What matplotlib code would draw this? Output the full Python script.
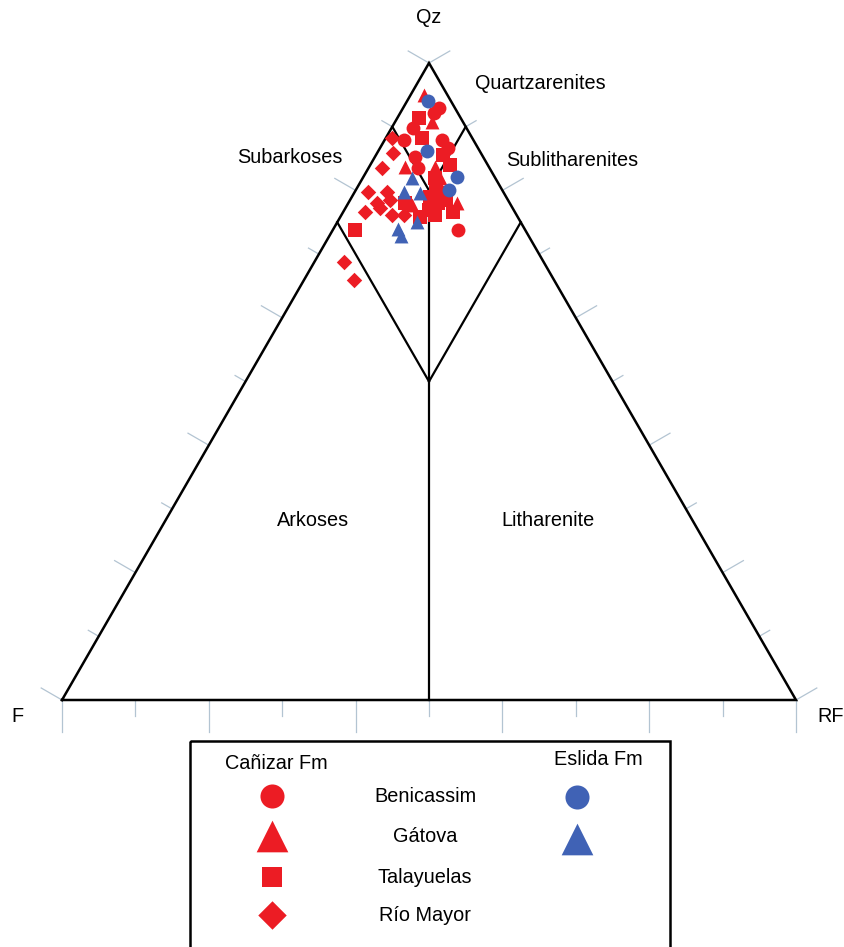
import numpy as np
import matplotlib
matplotlib.use("Agg")
import matplotlib.pyplot as plt
from matplotlib.patches import Rectangle

plt.rcParams['font.family'] = ['Liberation Sans', 'DejaVu Sans']

# Cañizar Fm samples (Qz, F, RF in %)
beni_qz = [92.9, 92.2, 89.8, 87.9, 87.9, 86.7, 83.5, 73.8, 85.2]
beni_f = [2.2, 3.2, 7.3, 9.4, 4.3, 4.1, 9.8, 9.1, 9.3]
beni_rf = [4.9, 4.6, 2.9, 2.7, 7.8, 9.2, 6.7, 17.1, 5.5]

gato_qz = [95.0, 90.7, 83.7, 83.7, 77.7, 78.0, 81.9]
gato_f = [3.2, 4.3, 11.4, 7.3, 13.5, 7.2, 7.6]
gato_rf = [1.8, 5.0, 4.9, 9.0, 8.8, 14.8, 10.5]

tala_qz = [91.4, 88.2, 85.6, 84.0, 79.6, 78.0, 78.0, 75.8, 76.1, 76.6, 73.8, 80.8, 78.5, 76.9, 82.0, 79.0]
tala_f = [5.7, 6.9, 5.3, 5.1, 8.4, 9.8, 14.3, 13.3, 11.2, 8.4, 23.2, 8.6, 8.5, 11.5, 8.2, 10.4]
tala_rf = [2.9, 4.9, 9.1, 10.9, 12.0, 12.2, 7.7, 10.9, 12.7, 15.0, 3.0, 10.6, 13.0, 11.6, 9.8, 10.6]

rio_qz = [88.2, 85.9, 83.5, 79.7, 79.7, 78.0, 77.2, 76.6, 76.1, 76.1, 78.5, 68.8, 65.9]
rio_f = [10.9, 12.0, 14.7, 18.5, 15.9, 18.1, 18.1, 20.4, 17.0, 15.3, 16.1, 27.2, 27.3]
rio_rf = [0.9, 2.1, 1.8, 1.8, 4.4, 3.9, 4.7, 3.0, 6.9, 8.6, 5.4, 4.0, 6.8]

# Eslida Fm samples
esl_c_qz = [94.0, 86.2, 82.1, 80.1]
esl_c_f = [3.1, 7.2, 5.2, 7.2]
esl_c_rf = [2.9, 6.6, 12.7, 12.7]

esl_t_qz = [81.9, 79.7, 79.6, 75.0, 73.9, 72.8]
esl_t_f = [11.3, 13.5, 11.4, 14.1, 17.3, 17.4]
esl_t_rf = [6.8, 6.8, 9.0, 10.9, 8.8, 9.8]

RED = "#EC1C24"
BLUE = "#4062B5"
TICK = "#B3C4D2"

# triangle corners in figure pixels
P_F = np.array([62.0, 700.0])
P_RF = np.array([796.0, 700.0])
P_QZ = np.array([429.0, 63.0])


def tern(qz, f, rf):
    qz, f, rf = np.asarray(qz, float), np.asarray(f, float), np.asarray(rf, float)
    tot = qz + f + rf
    x = (P_F[0] * f + P_RF[0] * rf + P_QZ[0] * qz) / tot
    y = (P_F[1] * f + P_RF[1] * rf + P_QZ[1] * qz) / tot
    return x, y


fig = plt.figure(figsize=(8.44, 9.47), dpi=100)
ax = fig.add_axes([0, 0, 1, 1])
ax.set_xlim(0, 844)
ax.set_ylim(947, 0)
ax.axis("off")

# ticks (perpendicular to each edge, every 10 %)
edges = [(P_F, P_RF), (P_F, P_QZ), (P_QZ, P_RF)]
outward = [np.array([0, 1.0]),
           np.array([-np.cos(np.radians(30)), -0.5]),
           np.array([np.cos(np.radians(30)), -0.5])]
lens = [(32, 16), (24, 12), (24, 12)]
for (a, b), d, (ll, sl) in zip(edges, outward, lens):
    for i in range(11):
        p = a + (b - a) * i / 10
        L = ll if i % 2 == 0 else sl
        ax.plot([p[0], p[0] + d[0] * L], [p[1], p[1] + d[1] * L],
                color=TICK, lw=0.9, zorder=1)

# outer triangle
tri = np.array([P_F, P_RF, P_QZ, P_F])
ax.plot(tri[:, 0], tri[:, 1], color="black", lw=1.8, zorder=2, solid_joinstyle="miter")

# field boundaries
lines = [
    [(75, 25, 0), (50, 25, 25)],
    [(75, 0, 25), (50, 25, 25)],
    [(90, 10, 0), (80, 10, 10)],
    [(90, 0, 10), (80, 10, 10)],
    [(80, 10, 10), (0, 50, 50)],
]
for p0, p1 in lines:
    x0, y0 = tern(*p0)
    x1, y1 = tern(*p1)
    ax.plot([x0, x1], [y0, y1], color="black", lw=1.6, zorder=2)

# samples
ms = 100
ax.scatter(*tern(rio_qz, rio_f, rio_rf), marker="D", s=62, color=RED, lw=0, zorder=3)
ax.scatter(*tern(tala_qz, tala_f, tala_rf), marker="s", s=ms, color=RED, lw=0, zorder=3)
ax.scatter(*tern(gato_qz, gato_f, gato_rf), marker="^", s=ms, color=RED, lw=0, zorder=3)
ax.scatter(*tern(beni_qz, beni_f, beni_rf), marker="o", s=ms, color=RED, lw=0, zorder=3)
ax.scatter(*tern(esl_c_qz, esl_c_f, esl_c_rf), marker="o", s=ms, color=BLUE, lw=0, zorder=4)
ax.scatter(*tern(esl_t_qz, esl_t_f, esl_t_rf), marker="^", s=ms, color=BLUE, lw=0, zorder=4)

# labels
fs = 14.3
ax.text(429, 17, "Qz", ha="center", va="center", fontsize=fs)
ax.text(17, 716, "F", ha="center", va="center", fontsize=fs)
ax.text(817, 716, "RF", ha="left", va="center", fontsize=fs)
ax.text(540, 83, "Quartzarenites", ha="center", va="center", fontsize=fs)
ax.text(290, 157, "Subarkoses", ha="center", va="center", fontsize=fs)
ax.text(572, 160, "Sublitharenites", ha="center", va="center", fontsize=fs)
ax.text(313, 520, "Arkoses", ha="center", va="center", fontsize=fs)
ax.text(548, 520, "Litharenite", ha="center", va="center", fontsize=fs)

# legend box
ax.add_patch(Rectangle((190, 741), 480, 230, fill=False, ec="black", lw=1.8, zorder=2))
ax.text(276, 763, "Cañizar Fm", ha="center", va="center", fontsize=fs)
ax.text(598, 759, "Eslida Fm", ha="center", va="center", fontsize=fs)
names = ["Benicassim", "Gátova", "Talayuelas", "Río Mayor"]
rows = [796, 836, 877, 915]
marks = [("o", 300), ("^", 520), ("s", 200), ("D", 210)]
for name, yy, (m, s) in zip(names, rows, marks):
    ax.text(425, yy, name, ha="center", va="center", fontsize=fs)
    ax.scatter([272], [yy], marker=m, s=s, color=RED, lw=0)
ax.scatter([577], [797], marker="o", s=300, color=BLUE, lw=0)
ax.scatter([577], [839], marker="^", s=520, color=BLUE, lw=0)

fig.savefig("out.png", dpi=100, facecolor="white")
